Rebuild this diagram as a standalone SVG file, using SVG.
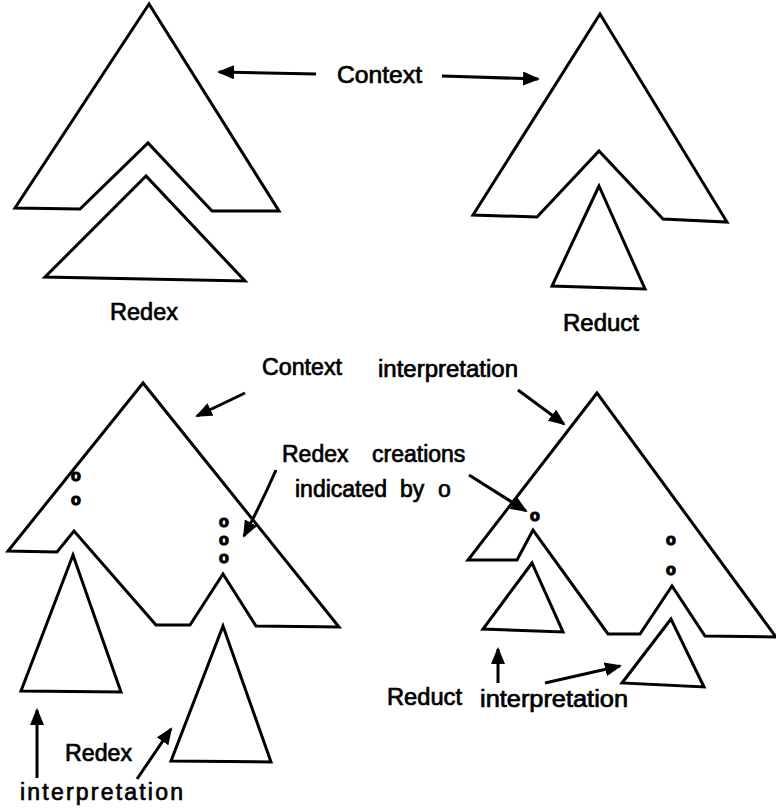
<svg xmlns="http://www.w3.org/2000/svg" width="776" height="811" viewBox="0 0 776 811">
<style>
.sh{fill:none;stroke:#000;stroke-width:3;stroke-linejoin:miter}
.ar{fill:none;stroke:#000;stroke-width:3;marker-end:url(#ah)}
.t{font-family:"Liberation Sans",Arial,sans-serif;font-size:23px;fill:#000;stroke:#000;stroke-width:0.7}
.o{font-family:"Liberation Sans",Arial,sans-serif;font-size:16px;font-weight:bold;fill:#000;stroke:#000;stroke-width:1.2;text-anchor:middle}
</style>
<defs>
<marker id="ah" markerUnits="userSpaceOnUse" markerWidth="18" markerHeight="14" refX="15" refY="7" orient="auto">
<path d="M0,0 L17,7 L0,14 z" fill="#000"/>
</marker>
</defs>
<rect width="776" height="811" fill="#fff"/>

<g id="top-left-context"><polygon class="sh" points="149,4 15,208 80,209 148,143 212,211 279,211"/></g>
<g id="top-left-redex"><polygon class="sh" points="146,176 45,277 245,281"/></g>
<g id="top-right-context"><polygon class="sh" points="600,14 473,215 537,217 599,151 663,219 727,222"/></g>
<g id="top-right-reduct"><polygon class="sh" points="599,186 552,286 645,289"/></g>

<g id="bottom-left-context"><polygon class="sh" points="143,383 8,551 57,552 74,531 156,625 190,625 223,574 256,626 339,627"/></g>
<g id="bottom-left-redex1"><polygon class="sh" points="73,555 21,691 121,692"/></g>
<g id="bottom-left-redex2"><polygon class="sh" points="223,626 171,761 271,762"/></g>
<g id="bottom-left-marks">
<text class="o" x="76" y="481">o<tspan x="76" y="505">o</tspan></text>
<text class="o" x="224" y="527">o<tspan x="224" y="545">o</tspan><tspan x="224" y="563">o</tspan></text>
</g>

<g id="bottom-right-context"><polygon class="sh" points="597,393 468,560 517,560 533,530 608,634 640,634 672,586 705,636 776,637"/></g>
<g id="bottom-right-reduct1"><polygon class="sh" points="532,563 483,629 563,632"/></g>
<g id="bottom-right-reduct2"><polygon class="sh" points="671,619 622,683 704,687"/></g>
<g id="bottom-right-marks">
<text class="o" x="535" y="521">o</text>
<text class="o" x="671" y="545">o<tspan x="671" y="575">o</tspan></text>
</g>

<g id="connectors">
<path class="ar" d="M316,74 L219,72"/>
<path class="ar" d="M442,76 L538,79"/>
<path class="ar" d="M245,393 L197,416"/>
<path class="ar" d="M276,470 Q262,502 244,536"/>
<path class="ar" d="M37,778 L37,710"/>
<path class="ar" d="M137,779 L171,729"/>
<path class="ar" d="M518,390 L564,424"/>
<path class="ar" d="M469,475 L526,511"/>
<path class="ar" d="M498,683 L498,649"/>
<path class="ar" d="M545,683 L620,666"/>
</g>

<g id="labels">
<text class="t" x="337" y="83" textLength="85" lengthAdjust="spacingAndGlyphs">Context</text>
<text class="t" x="110" y="320" textLength="68" lengthAdjust="spacingAndGlyphs">Redex</text>
<text class="t" x="563" y="331" textLength="76" lengthAdjust="spacingAndGlyphs">Reduct</text>
<text class="t" x="262" y="375" textLength="80" lengthAdjust="spacingAndGlyphs">Context</text>
<text class="t" x="378" y="377" textLength="140" lengthAdjust="spacingAndGlyphs">interpretation</text>
<text class="t" y="462"><tspan x="282">Redex</tspan><tspan x="372">creations</tspan></text>
<text class="t" y="497"><tspan x="295">indicated</tspan><tspan x="400">by</tspan><tspan x="438">o</tspan></text>
<text class="t" x="65" y="761" textLength="67" lengthAdjust="spacingAndGlyphs">Redex</text>
<text class="t" x="20" y="800" textLength="163" lengthAdjust="spacing">interpretation</text>
<text class="t" x="387" y="705" textLength="75" lengthAdjust="spacingAndGlyphs">Reduct</text>
<text class="t" x="480" y="707" textLength="148" lengthAdjust="spacingAndGlyphs">interpretation</text>
</g>
</svg>
